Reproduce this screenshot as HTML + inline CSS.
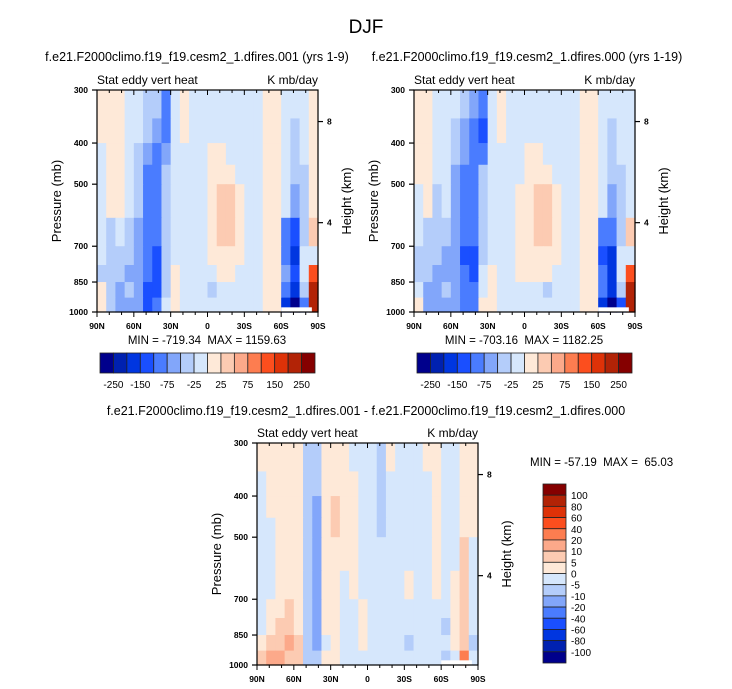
<!DOCTYPE html>
<html><head><meta charset="utf-8">
<style>
html,body{margin:0;padding:0;background:#fff;}
svg{display:block;font-family:"Liberation Sans",Arial,sans-serif;}
</style></head>
<body>
<svg id="fig" width="732" height="689" viewBox="0 0 732 689" xmlns="http://www.w3.org/2000/svg">
<text x="366" y="33" font-size="19" text-anchor="middle">DJF</text>
<text x="197" y="61" font-size="12.5" text-anchor="middle">f.e21.F2000climo.f19_f19.cesm2_1.dfires.001 (yrs 1-9)</text>
<text x="527" y="61" font-size="12.5" text-anchor="middle">f.e21.F2000climo.f19_f19.cesm2_1.dfires.000 (yrs 1-19)</text>
<text x="366" y="415" font-size="12.5" text-anchor="middle">f.e21.F2000climo.f19_f19.cesm2_1.dfires.001 - f.e21.F2000climo.f19_f19.cesm2_1.dfires.000</text>
</svg>
<script>
// ---- data ----
const latEdges = [90,82.5,75,67.5,60,52.5,45,37.5,30,22.5,15,7.5,0,-7.5,-15,-22.5,-30,-37.5,-45,-52.5,-60,-67.5,-75,-82.5,-90];
const presEdges = [300,350,400,450,500,600,700,775,850,925,1000];
const levelsMain = [-250,-200,-150,-100,-75,-50,-25,0,25,50,75,100,150,200,250];
const levelsDiff = [-100,-80,-60,-40,-20,-10,-5,0,5,10,20,40,60,80,100];
const colorsMain = ["#00008c","#0021b0","#0036e0","#1a4fff","#4a7cff","#82a6fa","#b4cdfa","#d6e7fc","#fee9d8","#fccbb2","#fca98a","#fd7d50","#fc4e1e","#de3208","#b22306","#850000"];
const colorsDiff = colorsMain;
const mainTickLabels = ["-250","-150","-75","-25","25","75","150","250"];
const diffTickLabels = ["100","80","60","40","20","10","5","0","-5","-10","-20","-40","-60","-80","-100"];
const presTicks = [300,400,500,700,850,1000];
const heightTicks = [{km:8,p:356},{km:4,p:616}];
const latTicks = [90,60,30,0,-30,-60,-90];
const latTickLabels = ["90N","60N","30N","0","30S","60S","90S"];

// rows: pressure bands top->bottom; columns: latitude bands 90N->90S
const fieldA = [
[10,10,10,-10,-10,-40,-40,-90,-10,10,-10,-10,-10,-10,-10,-10,-10,-10,10,10,-10,-10,-10,10],
[10,10,10,-10,-10,-40,-60,-90,-10,10,-10,-10,-10,-10,-10,-10,-10,-10,10,10,-10,-40,-10,10],
[-10,10,10,-10,-40,-60,-90,-60,-10,-10,-10,-10,10,10,-10,-10,-10,-10,10,10,-10,-40,-10,10],
[-10,10,10,-10,-40,-90,-90,-40,-10,-10,-10,-10,10,10,10,-10,-10,-10,10,10,-10,-40,-40,10],
[-10,10,10,-10,-40,-90,-90,-40,-10,-10,-10,-10,10,30,30,10,-10,-10,10,10,-10,-60,-40,10],
[-10,-40,-10,-40,-60,-90,-90,-40,-10,-10,-10,-10,10,30,30,10,-10,-10,10,10,-90,-120,-40,30],
[-10,-40,-40,-40,-60,-90,-120,-40,-10,-10,-10,-10,10,10,10,10,-10,-10,10,10,-90,-170,-10,-10],
[-40,-40,-40,-60,-60,-90,-120,-40,10,-10,-10,-10,-10,10,10,-10,-10,-10,10,10,-60,-120,-10,120],
[10,-40,-60,-40,-60,-120,-120,-40,10,-10,-10,-10,-40,-10,-10,-10,-10,-10,10,10,-90,-170,-40,200],
[10,-40,-60,-60,-60,-120,-90,-10,10,-10,-10,-10,-10,-10,-10,-10,-10,-10,10,10,-170,-300,-90,200]
];
const fieldB = [
[10,10,-10,-10,-10,-40,-60,-90,-10,10,-10,-10,-10,-10,-10,-10,-10,-10,10,10,-10,-10,-10,-10],
[10,10,-10,-10,-40,-60,-90,-120,-10,10,-10,-10,-10,-10,-10,-10,-10,-10,10,10,-10,-40,-10,-10],
[10,10,-10,-10,-40,-60,-90,-90,-10,-10,-10,-10,10,10,-10,-10,-10,-10,10,10,-10,-40,-10,-10],
[10,10,-10,-10,-60,-90,-90,-40,-10,-10,-10,-10,10,10,10,-10,-10,-10,10,10,-10,-40,-40,-10],
[-10,10,-40,-10,-60,-90,-90,-40,-10,-10,-10,10,10,30,30,10,-10,-10,10,10,-10,-60,-40,-10],
[-10,-40,-40,-40,-60,-90,-90,-40,-10,-10,-10,10,10,30,30,10,-10,-10,10,10,-90,-90,-40,30],
[-40,-40,-40,-60,-60,-120,-120,-40,-10,-10,-10,10,10,10,10,10,-10,-10,10,10,-120,-170,-10,-10],
[-40,-40,-60,-60,-60,-90,-120,-10,10,-10,-10,10,10,10,10,-10,-10,-10,10,10,-90,-170,-10,120],
[-10,-60,-60,-40,-60,-90,-90,-10,10,-10,-10,-10,-10,-10,-40,-10,-10,-10,10,10,-90,-170,-40,200],
[10,-60,-60,-60,-60,-90,-90,10,10,-10,-10,-10,-10,-10,-10,-10,-10,-10,10,10,-170,-300,-120,200]
];
const fieldC = [
[2,2,2,2,2,-7,-7,2,2,2,-2,-2,-2,-7,2,-2,-2,-2,2,2,-2,-2,2,2],
[-2,2,2,2,2,-7,-7,2,2,2,2,-2,-2,-7,-2,-2,-2,-2,-2,2,-2,-2,2,2],
[-2,2,2,2,2,-7,-15,2,7,2,2,-2,-2,-7,-2,-2,-2,-2,-2,2,-2,-2,2,2],
[-2,-2,2,2,2,-7,-15,2,7,2,2,-2,-2,-7,-2,-2,-2,-2,-2,2,-2,-2,2,2],
[-2,-2,2,2,2,-7,-15,2,2,2,2,-2,-2,-2,-2,-2,-2,-2,-2,2,-2,-2,7,-2],
[-2,-2,2,2,2,-7,-15,2,2,-2,2,-2,-2,-2,-2,-2,2,-2,-2,2,-2,2,7,-2],
[-2,2,2,7,2,-7,-15,2,2,-2,-2,2,-2,-2,-2,-2,-2,-2,-2,-2,-2,2,7,-2],
[-2,2,7,7,2,-7,-15,2,2,-2,-2,2,-2,-2,-2,-2,-2,-2,-2,-2,-7,2,7,-2],
[2,7,7,15,7,-7,-15,-2,2,-2,-2,2,-2,-2,-2,-2,-7,-2,-2,-2,-2,2,7,-7],
[7,15,15,7,7,-7,-7,2,2,-2,-2,-2,-2,-2,-2,-2,-2,-2,-2,-2,-7,-2,30,-2]
];

const NS = "http://www.w3.org/2000/svg";
const svg = document.getElementById("fig");
function el(tag, attrs, parent, txt){
  const e = document.createElementNS(NS, tag);
  for (const k in attrs) e.setAttribute(k, attrs[k]);
  if (txt !== undefined) e.textContent = txt;
  (parent || svg).appendChild(e);
  return e;
}
function colorFor(v, levels, colors){
  let i = 0; while (i < levels.length && levels[i] <= v) i++;
  return colors[i];
}

function drawPanel(P){
  const g = el("g", {});
  
  
  const lp0 = Math.log(300), lp1 = Math.log(1000);
  const yOf = p => P.y0 + P.h * (Math.log(p) - lp0) / (lp1 - lp0);
  const xOf = lat => P.x0 + (90 - lat) / 180 * P.w;
  for (let r = 0; r < P.field.length; r++){
    for (let c = 0; c < P.field[r].length; c++){
      const v = P.field[r][c];
      const x = xOf(latEdges[c]), x2 = xOf(latEdges[c+1]);
      const y = yOf(presEdges[r]), y2 = yOf(presEdges[r+1]);
      const cell = el("rect", {x:x, y:y, width:x2-x+0.6, height:y2-y+0.6, fill:colorFor(v, P.levels, P.colors)}, g);
      
      
    }
  }
  if (P.ground){
    el("rect",{x:xOf(-60), y:yOf(975), width:xOf(-85)-xOf(-60), height:yOf(1000)-yOf(975), fill:"#fff"}, g);
  }
  const frame = el("rect", {x:P.x0, y:P.y0, width:P.w, height:P.h, fill:"none", stroke:"#000", "stroke-width":1.2}, g);
  
  
  presTicks.forEach(p => {
    const y = yOf(p);
    el("line",{x1:P.x0-5,x2:P.x0,y1:y,y2:y,stroke:"#000","stroke-width":1.2},g);
    const t = el("text",{x:P.x0-9,y:y+3,"font-size":8.5,"font-weight":"bold","text-anchor":"end"},g,String(p));
    
    
  });
  heightTicks.forEach(hk => {
    const y = yOf(hk.p);
    el("line",{x1:P.x0+P.w,x2:P.x0+P.w+5,y1:y,y2:y,stroke:"#000","stroke-width":1.2},g);
    const t = el("text",{x:P.x0+P.w+9,y:y+3,"font-size":8.5,"font-weight":"bold"},g,String(hk.km));
    
    
  });
  for (let lat = 90; lat >= -90; lat -= 10){
    const x = xOf(lat), major = (lat % 30 === 0);
    const len = major ? 5 : 3;
    el("line",{x1:x,x2:x,y1:P.y0+P.h,y2:P.y0+P.h+len,stroke:"#000","stroke-width":1},g);
    el("line",{x1:x,x2:x,y1:P.y0,y2:P.y0+len,stroke:"#000","stroke-width":1},g);
  }
  latTicks.forEach((lat,i) => {
    const t = el("text",{x:xOf(lat),y:P.y0+P.h+17,"font-size":8.5,"font-weight":"bold","text-anchor":"middle"},g,latTickLabels[i]);
    
    
  });
  const l1 = el("text",{x:P.x0,y:P.y0-6,"font-size":12},g,"Stat eddy vert heat");
  
  
  const l2 = el("text",{x:P.x0+P.w,y:P.y0-6,"font-size":12,"text-anchor":"end"},g,"K mb/day");
  
  
  const cy = P.y0 + P.h/2;
  const ya = el("text",{x:P.x0-36,y:cy,"font-size":13,"text-anchor":"middle",transform:`rotate(-90 ${P.x0-36} ${cy})`},g,"Pressure (mb)");
  
  
  const ha = el("text",{x:P.x0+P.w+33,y:cy,"font-size":13,"text-anchor":"middle",transform:`rotate(-90 ${P.x0+P.w+33} ${cy})`},g,"Height (km)");
  
  
  const mm = el("text",{x:P.mmx,y:P.mmy,"font-size":11.5,"text-anchor":P.mmAnchor},g,P.mm);
  
  
}

function hColorbar(x, y, w, h, name){
  const g = el("g",{});
  
  
  const n = colorsMain.length, bw = w / n;
  colorsMain.forEach((c,i) => {
    const b = el("rect",{x:x+i*bw,y:y,width:bw,height:h,fill:c,stroke:"#222","stroke-width":0.8},g);
    
    
  });
  mainTickLabels.forEach((lab,i) => {
    const t = el("text",{x:x+(1+2*i)*bw,y:y+h+15,"font-size":10,"text-anchor":"middle"},g,lab);
    
    
  });
}
function vColorbar(x, y, w, h){
  const g = el("g",{});
  
  
  const n = colorsDiff.length, bh = h / n;
  for (let i = 0; i < n; i++){
    const b = el("rect",{x:x,y:y+i*bh,width:w,height:bh,fill:colorsDiff[n-1-i],stroke:"#222","stroke-width":0.8},g);
    
    
  }
  diffTickLabels.forEach((lab,i) => {
    const t = el("text",{x:x+w+5,y:y+(i+1)*bh+4,"font-size":10},g,lab);
    
    
  });
}

drawPanel({name:"left-panel",x0:97,y0:90,w:221,h:222,field:fieldA,levels:levelsMain,colors:colorsMain,ground:true,mm:"MIN = -719.34\u00a0\u00a0MAX = 1159.63",mmx:207,mmy:344,mmAnchor:"middle"});
drawPanel({name:"right-panel",x0:414,y0:90,w:221,h:222,field:fieldB,levels:levelsMain,colors:colorsMain,ground:true,mm:"MIN = -703.16\u00a0\u00a0MAX = 1182.25",mmx:524,mmy:344,mmAnchor:"middle"});
drawPanel({name:"diff-panel",x0:257,y0:443,w:221,h:222,field:fieldC,levels:levelsDiff,colors:colorsDiff,ground:true,mm:"MIN = -57.19\u00a0\u00a0MAX =\u00a0\u00a065.03",mmx:530,mmy:466,mmAnchor:"start"});
hColorbar(100,353,215,20,"left-colorbar");
hColorbar(417,353,215,20,"right-colorbar");
vColorbar(543,484,23,179);
</script>
</body></html>
